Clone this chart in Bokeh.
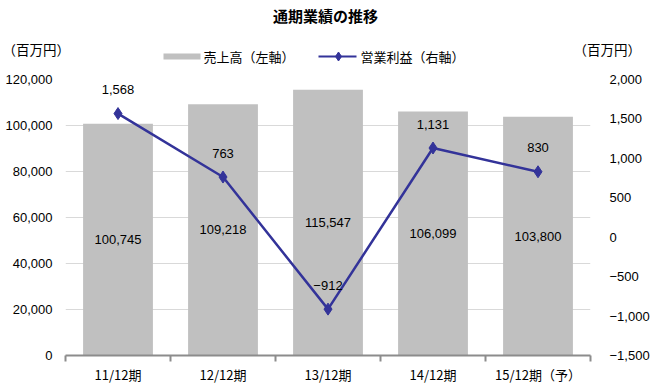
from bokeh.plotting import figure
from bokeh.layouts import column
from bokeh.models import (Range1d, LinearAxis, FixedTicker, NumeralTickFormatter, ColumnDataSource)
from bokeh.core.properties import value
from bokeh.embed import file_html
from bokeh.resources import INLINE

# ---- data ----
categories = ["11/12期", "12/12期", "13/12期", "14/12期", "15/12期（予）"]
sales = [100745, 109218, 115547, 106099, 103800]          # 売上高 (left axis)
operating_profit = [1568, 763, -912, 1131, 830]            # 営業利益 (right axis)
left_ticks = [0, 20000, 40000, 60000, 80000, 100000, 120000]
right_ticks = [-1500, -1000, -500, 0, 500, 1000, 1500, 2000]

title_text = "通期業績の推移"
unit_text = "（百万円）"
legend_sales = "売上高（左軸）"
legend_profit = "営業利益（右軸）"

JP = "Noto Sans CJK JP"
NUM = "Liberation Sans"
BAR_COLOR = "#c0c0c0"
LINE_COLOR = "#333399"
AXIS_COLOR = "#8c8c8c"

W, H = 652, 386
HEAD_H = 70


def fmt(v):
    s = f"{abs(v):,}"
    return ("\u2212" + s) if v < 0 else s


idx = list(range(len(categories)))
src = ColumnDataSource(dict(
    x=idx,
    sales=sales,
    sales_mid=[v / 2 for v in sales],
    sales_txt=[fmt(v) for v in sales],
    profit=operating_profit,
    profit_txt=[fmt(v) for v in operating_profit],
))

# ---------------- header (title, units, legend) ----------------
hd = figure(width=W, height=HEAD_H, output_backend="svg", toolbar_location=None,
            x_range=Range1d(0, W), y_range=Range1d(HEAD_H, 0),
            min_border=0, min_border_left=0, min_border_right=0, min_border_top=0, min_border_bottom=0)
hd.frame_align = False
hd.axis.visible = False
hd.grid.visible = False
hd.outline_line_color = None
hd.background_fill_color = "white"
hd.border_fill_color = "white"

hd.text(x=[325], y=[15], text=[title_text], text_align="center", text_baseline="middle",
        text_font=value(JP), text_font_style="bold", text_font_size="15px", text_color="black")
hd.text(x=[2], y=[48], text=[unit_text], text_align="left", text_baseline="middle",
        text_font=value(JP), text_font_size="13.5px", text_color="black")
hd.text(x=[573], y=[48], text=[unit_text], text_align="left", text_baseline="middle",
        text_font=value(JP), text_font_size="13.5px", text_color="black")
# legend
hd.quad(left=[163], right=[200], top=[53], bottom=[59], fill_color=BAR_COLOR, line_color=None)
hd.text(x=[203], y=[56], text=[legend_sales], text_align="left", text_baseline="middle",
        text_font=value(JP), text_font_size="13px", text_color="black")
hd.segment(x0=[318], y0=[56], x1=[356], y1=[56], line_color=LINE_COLOR, line_width=2)
hd.scatter(x=[338], y=[56], marker="diamond", size=9, fill_color=LINE_COLOR, line_color=LINE_COLOR)
hd.text(x=[360], y=[56], text=[legend_profit], text_align="left", text_baseline="middle",
        text_font=value(JP), text_font_size="13px", text_color="black")

# ---------------- main chart ----------------
p = figure(width=W, height=H - HEAD_H, output_backend="svg", toolbar_location=None,
           x_range=Range1d(-0.5, len(categories) - 0.5),
           y_range=Range1d(left_ticks[0], left_ticks[-1]),
           min_border_left=65, min_border_right=60, min_border_top=79 - HEAD_H, min_border_bottom=31)
p.frame_align = False
p.extra_y_ranges = {"profit": Range1d(right_ticks[0], right_ticks[-1])}
p.outline_line_color = None
p.background_fill_color = "white"
p.border_fill_color = "white"

p.vbar(x="x", top="sales", width=0.665, source=src, fill_color=BAR_COLOR, line_color=None)
p.line(x="x", y="profit", source=src, y_range_name="profit", line_color=LINE_COLOR, line_width=2.5)
p.scatter(x="x", y="profit", source=src, y_range_name="profit", marker="diamond",
          size=12, fill_color=LINE_COLOR, line_color=LINE_COLOR)

p.text(x="x", y="sales_mid", text="sales_txt", source=src, text_align="center",
       text_baseline="middle", text_font=value(NUM), text_font_size="13px", text_color="black")
p.text(x="x", y="profit", text="profit_txt", source=src, y_range_name="profit", y_offset=-24,
       text_align="center", text_baseline="middle", text_font=value(NUM), text_font_size="13px",
       text_color="black")

p.yaxis.ticker = FixedTicker(ticks=left_ticks)
p.yaxis.formatter = NumeralTickFormatter(format="0,0")
p.yaxis.axis_line_color = None
p.yaxis.major_tick_line_color = None
p.yaxis.minor_tick_line_color = None
p.yaxis.major_tick_out = 0
p.yaxis.major_label_standoff = 13
p.yaxis.major_label_text_font = NUM
p.yaxis.major_label_text_font_size = "13px"
p.yaxis.major_label_text_color = "black"

ra = LinearAxis(y_range_name="profit", ticker=FixedTicker(ticks=right_ticks))
ra.major_label_overrides = {t: fmt(t) for t in right_ticks}
ra.axis_line_color = None
ra.major_tick_line_color = None
ra.minor_tick_line_color = None
ra.major_tick_out = 0
ra.major_label_standoff = 19
ra.major_label_text_font = NUM
ra.major_label_text_font_size = "13px"
ra.major_label_text_color = "black"
p.add_layout(ra, "right")

xa = p.xaxis[0]
xa.ticker = FixedTicker(ticks=idx, minor_ticks=[i - 0.5 for i in range(len(categories) + 1)])
xa.major_label_overrides = {i: c for i, c in zip(idx, categories)}
xa.axis_line_color = AXIS_COLOR
xa.axis_line_width = 2
xa.major_tick_line_color = None
xa.major_tick_out = 0
xa.major_tick_in = 0
xa.minor_tick_line_color = AXIS_COLOR
xa.minor_tick_line_width = 2
xa.minor_tick_out = 6
xa.minor_tick_in = 0
xa.major_label_standoff = 3
xa.major_label_text_font = JP
xa.major_label_text_font_size = "13px"
xa.major_label_text_color = "black"

p.xgrid.grid_line_color = None
p.ygrid.grid_line_color = "#d9d9d9"
p.ygrid.grid_line_width = 1

layout = column(hd, p, spacing=0)
open("out.html", "w").write(file_html(layout, INLINE))
